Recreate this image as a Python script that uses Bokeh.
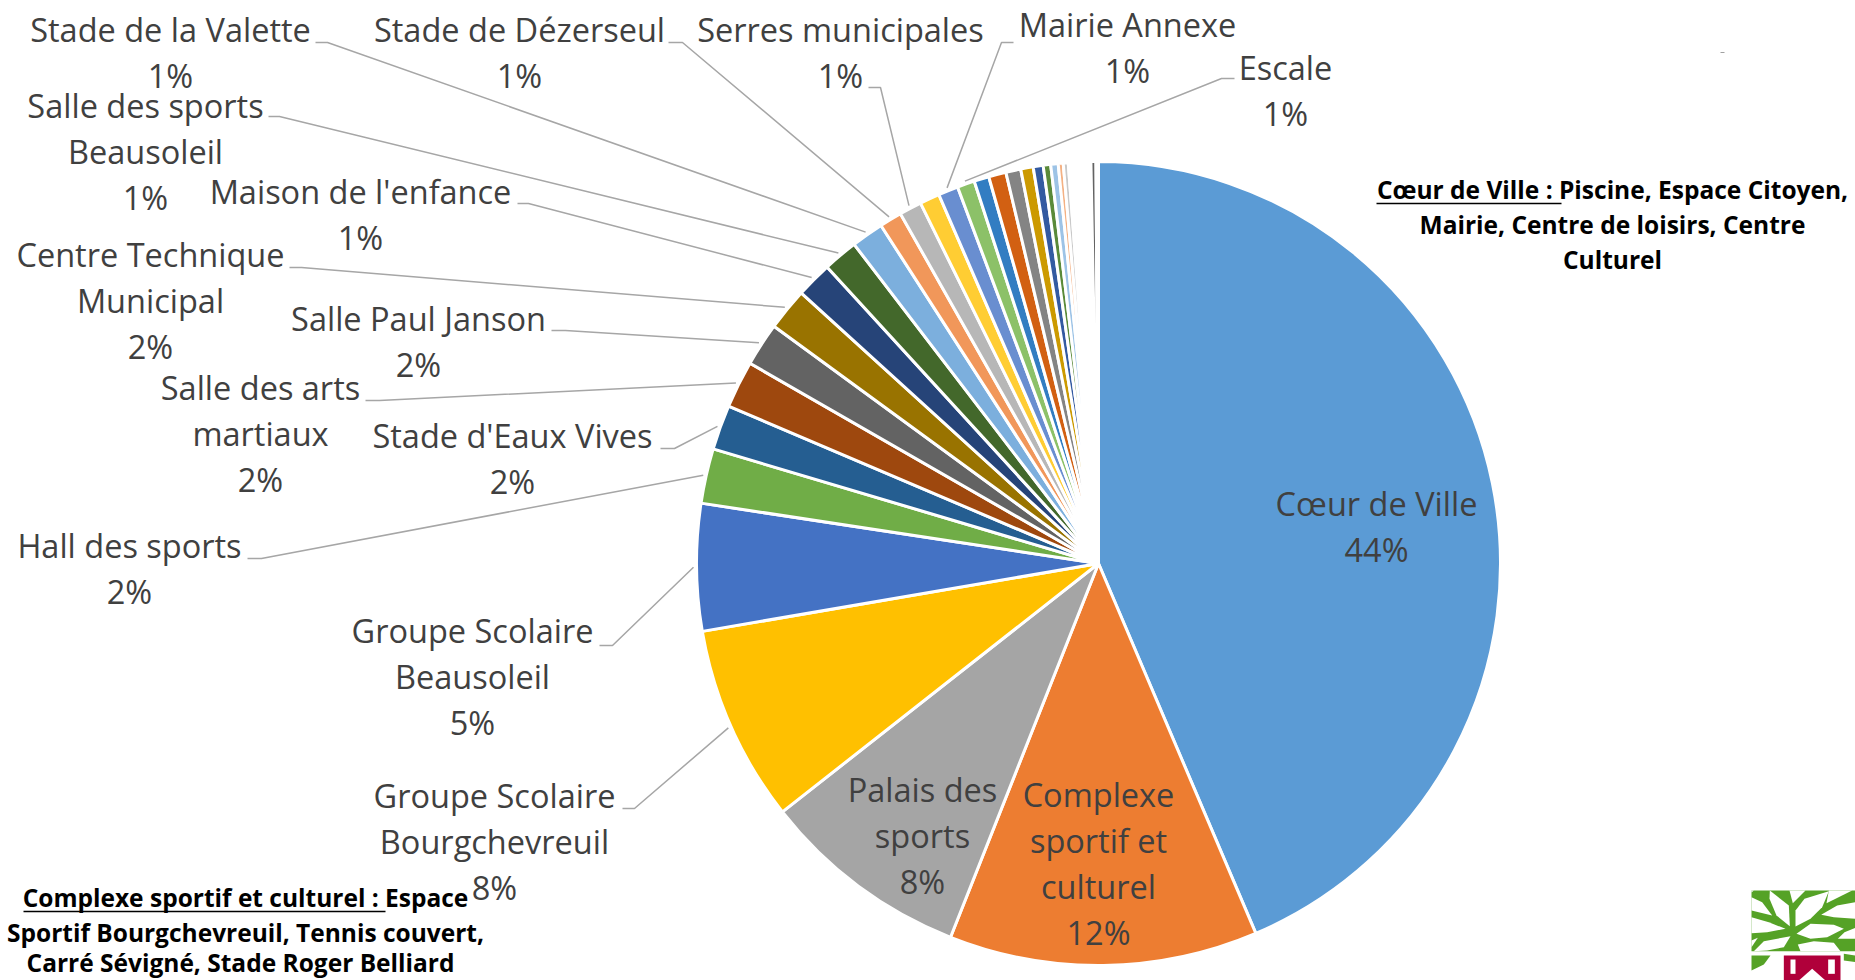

import math
from bokeh.plotting import figure
from bokeh.models import Range1d, ColumnDataSource
from bokeh.core.properties import value
from bokeh.embed import file_html
from bokeh.resources import INLINE

# ---------- data ----------
categories = ["Cœur de Ville", "Complexe sportif et culturel", "Palais des sports",
              "Groupe Scolaire Bourgchevreuil", "Groupe Scolaire Beausoleil", "Hall des sports",
              "Stade d'Eaux Vives", "Salle des arts martiaux", "Salle Paul Janson",
              "Centre Technique Municipal", "Maison de l'enfance", "Salle des sports Beausoleil",
              "Stade de la Valette", "Stade de Dézerseul", "Serres municipales", "Site 16",
              "Mairie Annexe", "Escale", "Site 19", "Site 20", "Site 21", "Site 22", "Site 23",
              "Site 24", "Site 25", "Site 26", "Site 27", "Site 28", "Site 29", "Site 30",
              "Site 31", "Site 32", "Site 33", "Site 34", "Site 35", "Site 36", "Site 37", "Site 38"]
shares = [43.6, 12.4, 8.4, 7.9, 5.1, 2.2, 1.8, 1.9, 1.75, 1.7, 1.45, 1.4, 1.3, 0.9, 0.9, 0.8,
          0.8, 0.7, 0.6, 0.7, 0.6, 0.5, 0.4, 0.3, 0.3, 0.2, 0.2, 0.1,
          0.1, 0.1, 0.1, 0.1, 0.1, 0.1, 0.1, 0.1, 0.2, 0.1]
colors = ["#5B9BD5", "#ED7D31", "#A5A5A5", "#FFC000", "#4472C4", "#70AD47", "#255E91", "#9E480E",
          "#636363", "#997300", "#264478", "#43682B", "#7CAFDD", "#F1975A", "#B7B7B7", "#FFCD33",
          "#698ED0", "#8CC168", "#327DC2", "#D26012", "#848484", "#CC9A00", "#335AA1", "#5A8A39",
          "#9DC3E6", "#F4B183", "#C9C9C9", "#FFD966", "#FFFFFF", "#FFFFFF", "#FFFFFF", "#FFFFFF",
          "#FFFFFF", "#FFFFFF", "#FFFFFF", "#FFFFFF", "#636363", "#FFFFFF"]
percent_labels = {"Cœur de Ville": "44%", "Complexe sportif et culturel": "12%", "Palais des sports": "8%",
                  "Groupe Scolaire Bourgchevreuil": "8%", "Groupe Scolaire Beausoleil": "5%",
                  "Hall des sports": "2%", "Stade d'Eaux Vives": "2%", "Salle des arts martiaux": "2%",
                  "Salle Paul Janson": "2%", "Centre Technique Municipal": "2%", "Maison de l'enfance": "1%",
                  "Salle des sports Beausoleil": "1%", "Stade de la Valette": "1%", "Stade de Dézerseul": "1%",
                  "Serres municipales": "1%", "Mairie Annexe": "1%", "Escale": "1%"}

# ---------- layout (page pixels) ----------
W, H = 1855, 980
CX, CY, R = 1098, 563, 402
FONT = "Open Sans"
# category -> (wrapped lines, centre x, first line y, leader start x, elbow x, leader y)
label_layout = {
    "Cœur de Ville": (["Cœur de Ville"], 1376, 503, None, None, None),
    "Complexe sportif et culturel": (["Complexe", "sportif et", "culturel"], 1098, 794, None, None, None),
    "Palais des sports": (["Palais des", "sports"], 922, 789, None, None, None),
    "Groupe Scolaire Bourgchevreuil": (["Groupe Scolaire", "Bourgchevreuil"], 494, 795, 622, 634, 808),
    "Groupe Scolaire Beausoleil": (["Groupe Scolaire", "Beausoleil"], 472, 630, 599, 612, 645),
    "Hall des sports": (["Hall des sports"], 129, 545, 247, 261, 558),
    "Stade d'Eaux Vives": (["Stade d'Eaux Vives"], 512, 435, 660, 674, 448),
    "Salle des arts martiaux": (["Salle des arts", "martiaux"], 260, 387, 365, 379, 400),
    "Salle Paul Janson": (["Salle Paul Janson"], 418, 318, 551, 565, 330),
    "Centre Technique Municipal": (["Centre Technique", "Municipal"], 150, 254, 289, 301, 267),
    "Maison de l'enfance": (["Maison de l'enfance"], 360, 191, 517, 528, 203),
    "Salle des sports Beausoleil": (["Salle des sports", "Beausoleil"], 145, 105, 268, 279, 116),
    "Stade de la Valette": (["Stade de la Valette"], 170, 29, 315, 327, 42),
    "Stade de Dézerseul": (["Stade de Dézerseul"], 519, 29, 668, 682, 42),
    "Serres municipales": (["Serres municipales"], 840, 29, 868, 880, 87),
    "Mairie Annexe": (["Mairie Annexe"], 1127, 24, 1013, 1001, 42),
    "Escale": (["Escale"], 1285, 67, 1234, 1221, 78),
}
LINE_H = 46
def Y(v):
    return H - v

# ---------- figure ----------
p = figure(width=W, height=H, x_range=Range1d(0, W), y_range=Range1d(0, H),
           output_backend="svg", toolbar_location=None, min_border=0)
p.axis.visible = False
p.grid.visible = False
p.outline_line_color = None
p.background_fill_color = "white"

# pie
total = sum(shares)
starts, ends, a = [], [], 0.0
for s in shares:
    starts.append(math.pi / 2 - 2 * math.pi * a / total)
    a += s
    ends.append(math.pi / 2 - 2 * math.pi * a / total)
src = ColumnDataSource(dict(cat=categories, share=shares, start=starts, end=ends, color=colors))
p.wedge(x=CX, y=Y(CY), radius=R, start_angle="start", end_angle="end", direction="clock",
        fill_color="color", line_color="white", line_width=3, source=src)

# leaders and labels
lx, ly, tx, ty, tt = [], [], [], [], []
for i, cat in enumerate(categories):
    if cat not in label_layout:
        continue
    lines, cx, y0, x0, xe, yl = label_layout[cat]
    if x0 is not None:
        mid = (starts[i] + ends[i]) / 2
        lx.append([x0, xe, CX + (R + 3) * math.cos(mid)])
        ly.append([Y(yl), Y(yl), Y(CY) + (R + 3) * math.sin(mid)])
    for k, t in enumerate(lines + [percent_labels[cat]]):
        tx.append(cx); ty.append(Y(y0 + k * LINE_H)); tt.append(t)
p.multi_line(lx, ly, line_color="#A6A6A6", line_width=1.5)
p.text(tx, ty, text=tt, text_font=value(FONT), text_font_size="32.5px", text_color="#404040",
       text_align="center", text_baseline="middle")

# notes
note_x = [1612, 1612, 1612, 245, 245, 240]
note_y = [189, 224, 259, 897, 932, 962]
note_t = ["Cœur de Ville : Piscine, Espace Citoyen,", "Mairie, Centre de loisirs, Centre", "Culturel",
          "Complexe sportif et culturel : Espace", "Sportif Bourgchevreuil, Tennis couvert,",
          "Carré Sévigné, Stade Roger Belliard"]
p.text(note_x, [Y(v) for v in note_y], text=note_t, text_font=value(FONT), text_font_style="bold",
       text_font_size="24.5px", text_color="#000000", text_align="center", text_baseline="middle")
p.multi_line([[1376, 1561], [23, 385]], [[Y(203), Y(203)], [Y(911), Y(911)]], line_color="#000000", line_width=1.5)

# small stray dash
p.line([1720, 1724], [Y(52), Y(52)], line_color="#A0A0A0", line_width=1)

# logo (decoration), outlined in the coordinates of a 3x crop
def zx(v): return 1700 + v / 3
def zy(v): return Y(860 + v / 3)
def patches(shapes, color):
    p.patches([[zx(q[0]) for q in s] for s in shapes], [[zy(q[1]) for q in s] for s in shapes],
              fill_color=color, line_color=None)
patches([[(153,90),(465,90),(465,272),(153,272)],
         [(153,285),(210,285),(190,312),(153,330)],
         [(430,280),(465,285),(465,305),(430,300)]], "#55A226")
patches([[(208,90),(265,135),(268,197),(228,165),(207,115)],
         [(285,198),(285,150),(312,115),(385,92),(365,140),(330,175)],
         [(267,90),(315,90),(277,128)],
         [(385,90),(455,90),(378,128)],
         [(362,163),(410,135),(465,125),(465,175),(400,170)],
         [(288,220),(330,190),(400,193),(430,205),(380,230),(330,235)],
         [(432,215),(465,202),(465,235),(412,235)],
         [(153,170),(205,185),(255,205),(200,215),(153,218)],
         [(160,272),(190,242),(270,227),(250,260),(200,270)],
         [(153,110),(185,125),(215,165),(153,150)],
         [(292,252),(340,242),(400,247),(420,272),(300,272)],
         [(153,90),(160,90),(153,96)],
         [(153,240),(172,232),(153,260)]], "#FFFFFF")
p.quad(left=[zx(250)], right=[zx(420)], top=[zy(285)], bottom=[0], fill_color="#B0003A", line_color=None)
p.quad(left=[zx(270), zx(383)], right=[zx(285), zx(403)], top=[zy(297), zy(297)], bottom=[zy(340), zy(340)],
       fill_color="white", line_color=None)
p.patch([zx(295), zx(335), zx(375)], [0, zy(325), 0], fill_color="white", line_color=None)

open("out.html", "w").write(file_html(p, INLINE))
